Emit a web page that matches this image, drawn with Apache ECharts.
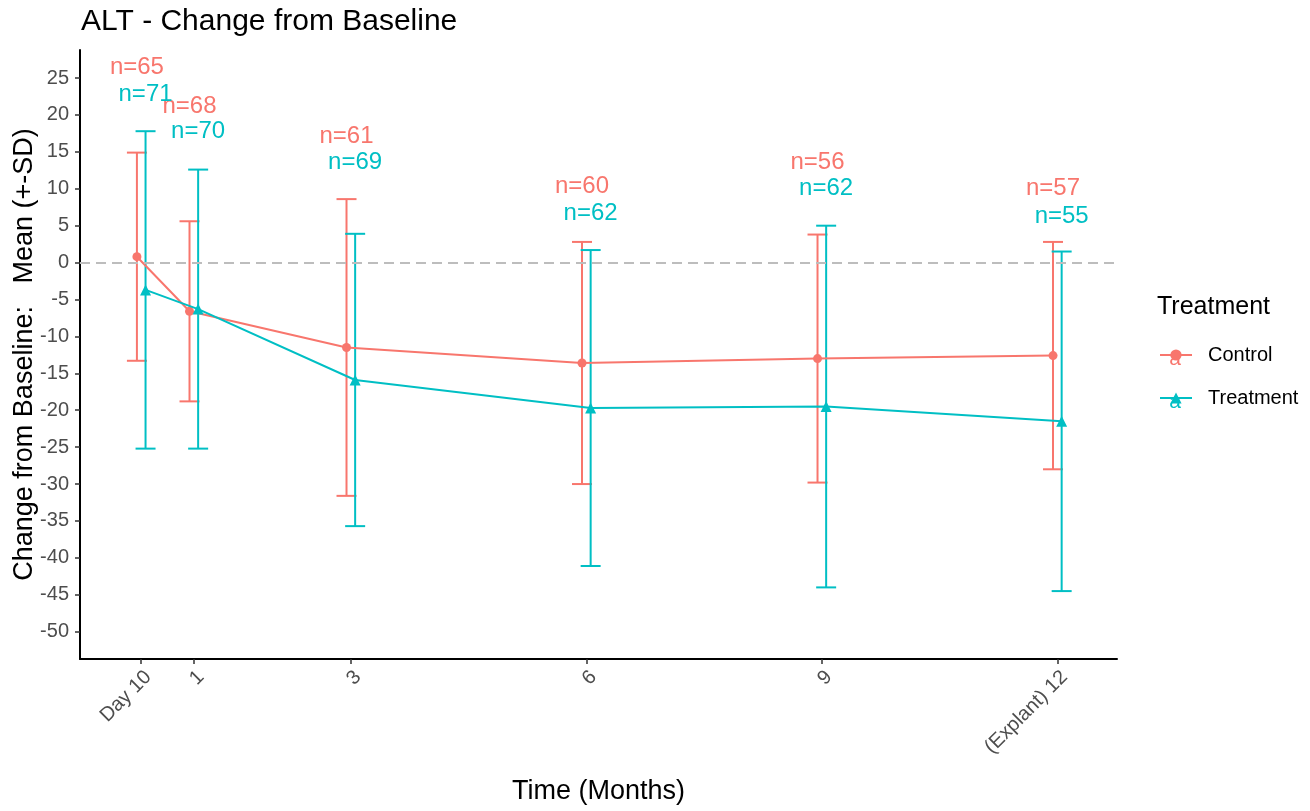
<!DOCTYPE html>
<html>
<head>
<meta charset="utf-8">
<title>ALT - Change from Baseline</title>
<script src="https://cdn.jsdelivr.net/npm/echarts@6/dist/echarts.min.js"></script>
<style>
  html, body { margin: 0; padding: 0; background: #ffffff; }
  #chart { width: 1310px; height: 811px; }
</style>
</head>
<body>
<div id="chart"></div>
<script>
// Visit times in months and their tick labels
const months = [0.33, 1, 3, 6, 9, 12];
const tickLabels = ['Day 10', '1', '3', '6', '9', '(Explant) 12'];
const yTicks = [-50, -45, -40, -35, -30, -25, -20, -15, -10, -5, 0, 5, 10, 15, 20, 25];

// Mean change from baseline and SD per group
const controlMean = [0.8, -6.6, -11.5, -13.6, -13.0, -12.6];
const controlSD = [14.1, 12.2, 20.1, 16.4, 16.8, 15.4];
const treatmentMean = [-3.7, -6.3, -15.9, -19.7, -19.5, -21.5];
const treatmentSD = [21.5, 18.9, 19.8, 21.4, 24.5, 23.0];

// Subjects per visit
const controlN = [65, 68, 61, 60, 56, 57];
const treatmentN = [71, 70, 69, 62, 62, 55];

// Heights (in axis units) at which the n= annotations sit
const controlNLevel = [26.4, 21.1, 17.1, 10.3, 13.6, 10.1];
const treatmentNLevel = [22.8, 17.8, 13.6, 6.7, 10.0, 6.3];

const RED = '#F8766D';
const TEAL = '#00BFC4';
const DODGE = 0.055; // horizontal offset between the two groups, in months

function shifted(sign) { return months.map(m => m + sign * DODGE); }
const xControl = shifted(-1);
const xTreatment = shifted(1);

function errorData(xs, mean, sd) {
  return xs.map((x, i) => [x, mean[i] - sd[i], mean[i] + sd[i]]);
}
function pointData(xs, mean) {
  return xs.map((x, i) => [x, mean[i]]);
}
function labelData(xs, level, n) {
  return xs.map((x, i) => [x, level[i], n[i]]);
}

function errorBarSeries(name, data, color) {
  return {
    type: 'custom',
    name: name,
    data: data,
    z: 2,
    silent: true,
    encode: { x: 0, y: [1, 2] },
    renderItem: function (params, api) {
      const x = api.value(0);
      const top = api.coord([x, api.value(2)]);
      const bot = api.coord([x, api.value(1)]);
      const hw = 10;
      const st = { stroke: color, lineWidth: 2 };
      return {
        type: 'group',
        children: [
          { type: 'line', shape: { x1: top[0], y1: top[1], x2: bot[0], y2: bot[1] }, style: st },
          { type: 'line', shape: { x1: top[0] - hw, y1: top[1], x2: top[0] + hw, y2: top[1] }, style: st },
          { type: 'line', shape: { x1: bot[0] - hw, y1: bot[1], x2: bot[0] + hw, y2: bot[1] }, style: st }
        ]
      };
    }
  };
}

function nLabelSeries(name, data, color) {
  return {
    type: 'custom',
    name: name,
    data: data,
    z: 5,
    silent: true,
    encode: { x: 0, y: 1 },
    renderItem: function (params, api) {
      const p = api.coord([api.value(0), api.value(1)]);
      return {
        type: 'text',
        style: {
          x: p[0], y: p[1],
          text: 'n=' + api.value(2),
          fill: color,
          font: '24px "Liberation Sans", Arial, sans-serif',
          align: 'center',
          verticalAlign: 'middle'
        }
      };
    }
  };
}

const chart = echarts.init(document.getElementById('chart'), null, { renderer: 'canvas' });

const FONT = '"Liberation Sans", Arial, sans-serif';

chart.setOption({
  animation: false,
  backgroundColor: '#ffffff',
  textStyle: { fontFamily: FONT },
  title: {
    text: 'ALT - Change from Baseline',
    left: 76,
    top: 2,
    textStyle: { fontFamily: FONT, fontSize: 30, fontWeight: 'normal', color: '#000000' }
  },
  grid: { left: 80, right: 193, top: 50, bottom: 152, containLabel: false, outerBoundsMode: 'none' },
  legend: {
    data: ['Control', 'Treatment'],
    orient: 'vertical',
    left: 1154,
    top: 340,
    itemWidth: 32,
    itemHeight: 14,
    itemGap: 23,
    selectedMode: false,
    textStyle: { fontFamily: FONT, fontSize: 20, color: '#000000', padding: [0, 0, 0, 11] }
  },
  graphic: [
    {
      type: 'text', left: 1157, top: 295,
      style: { text: 'Treatment', font: '25px ' + FONT, fill: '#000000' }
    },
    {
      type: 'text', x: 1175, y: 359,
      style: { text: 'a', font: '21px ' + FONT, fill: RED, align: 'center', verticalAlign: 'middle' }
    },
    {
      type: 'text', x: 1175, y: 402,
      style: { text: 'a', font: '21px ' + FONT, fill: TEAL, align: 'center', verticalAlign: 'middle' }
    }
  ],
  xAxis: {
    type: 'value',
    min: -0.45,
    max: 12.76,
    name: 'Time (Months)',
    nameLocation: 'middle',
    nameGap: 119,
    nameMoveOverlap: false,
    nameTextStyle: { fontFamily: FONT, fontSize: 27, color: '#000000' },
    axisLine: { show: true, onZero: false, lineStyle: { color: '#000000', width: 2 } },
    axisTick: { show: true, customValues: months, length: 5, lineStyle: { color: '#333333', width: 1.5 } },
    axisLabel: {
      customValues: months,
      rotate: 45,
      margin: 8,
      verticalAlign: 'top',
      fontSize: 20,
      color: '#4d4d4d',
      fontFamily: FONT,
      formatter: function (v) {
        let best = 0;
        months.forEach((m, i) => { if (Math.abs(m - v) < Math.abs(months[best] - v)) best = i; });
        return tickLabels[best];
      }
    },
    splitLine: { show: false }
  },
  yAxis: {
    type: 'value',
    min: -53.7,
    max: 28.8,
    name: 'Change from Baseline:   Mean (+-SD)',
    nameLocation: 'middle',
    nameGap: 42,
    nameMoveOverlap: false,
    nameTextStyle: { fontFamily: FONT, fontSize: 27, color: '#000000' },
    axisLine: { show: true, onZero: false, lineStyle: { color: '#000000', width: 2 } },
    axisTick: { show: true, customValues: yTicks, length: 5, lineStyle: { color: '#333333', width: 1.5 } },
    axisLabel: { customValues: yTicks, margin: 11, fontSize: 20, color: '#4d4d4d', fontFamily: FONT },
    splitLine: { show: false }
  },
  series: [
    errorBarSeries('Control SD', errorData(xControl, controlMean, controlSD), RED),
    errorBarSeries('Treatment SD', errorData(xTreatment, treatmentMean, treatmentSD), TEAL),
    {
      type: 'line',
      name: 'Control',
      data: pointData(xControl, controlMean),
      color: RED,
      symbol: 'circle',
      symbolSize: 9,
      lineStyle: { width: 2, color: RED },
      itemStyle: { color: RED },
      z: 3,
      markLine: {
        silent: true,
        symbol: 'none',
        label: { show: false },
        lineStyle: { color: '#bdbdbd', type: [10, 6], width: 2 },
        data: [{ yAxis: 0 }]
      }
    },
    {
      type: 'line',
      name: 'Treatment',
      data: pointData(xTreatment, treatmentMean),
      color: TEAL,
      symbol: 'triangle',
      symbolSize: 11,
      lineStyle: { width: 2, color: TEAL },
      itemStyle: { color: TEAL },
      z: 4
    },
    nLabelSeries('Control n', labelData(xControl, controlNLevel, controlN), RED),
    nLabelSeries('Treatment n', labelData(xTreatment, treatmentNLevel, treatmentN), TEAL)
  ]
});
</script>
</body>
</html>
